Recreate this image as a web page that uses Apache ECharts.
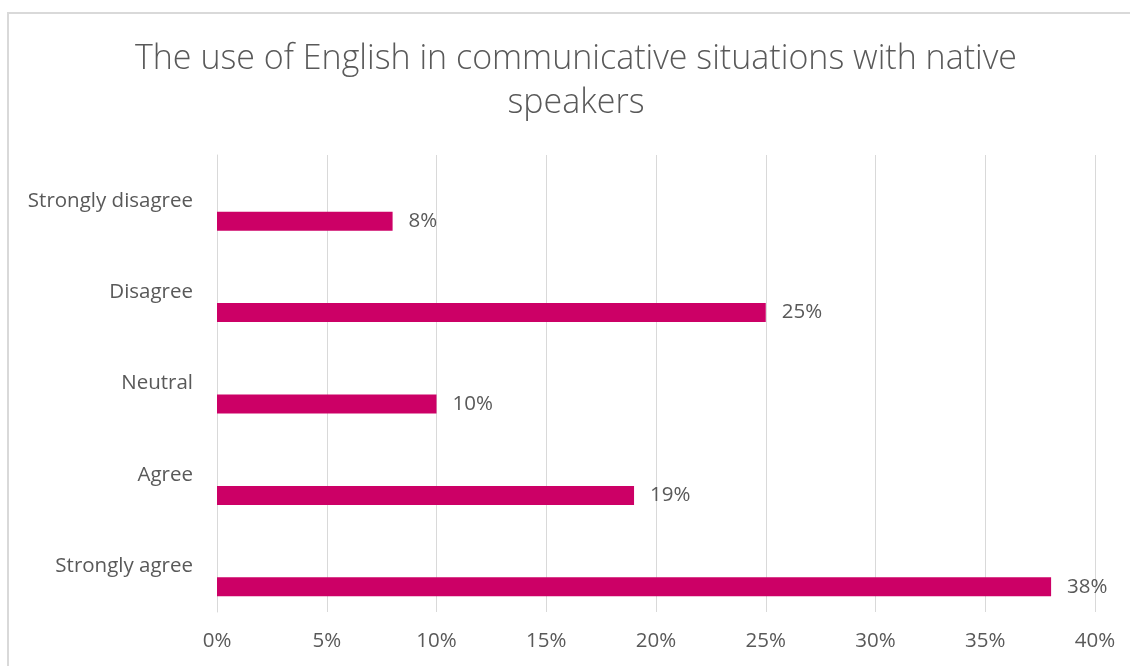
<!DOCTYPE html>
<html>
<head>
<meta charset="utf-8">
<script src="https://cdn.jsdelivr.net/npm/echarts@6/dist/echarts.min.js"></script>
<style>
html,body{margin:0;padding:0;background:#fff;}
#chart{width:1130px;height:666px;}
</style>
</head>
<body>
<div id="chart"></div>
<script>
const titleText = 'The use of English in communicative situations with native\nspeakers';
const categories = ['Strongly disagree', 'Disagree', 'Neutral', 'Agree', 'Strongly agree'];
const values = [8, 25, 10, 19, 38];
const placeholder = [null, null, null, null, null];
const xTicks = { min: 0, max: 40, interval: 5 };

const FONT = '"Open Sans"';
const chart = echarts.init(document.getElementById('chart'), null, { renderer: 'canvas' });
chart.setOption({
  animation: false,
  backgroundColor: '#ffffff',
  graphic: [{
    type: 'rect',
    shape: { x: 8, y: 13, width: 1200, height: 700 },
    style: { fill: 'none', stroke: '#d9d9d9', lineWidth: 2 },
    silent: true
  }],
  title: {
    text: titleText,
    left: 571,
    textAlign: 'center',
    top: 32,
    textStyle: { fontFamily: FONT, fontWeight: 300, fontSize: 34, color: '#595959', lineHeight: 44 }
  },
  grid: { left: 217, right: 35, top: 155, bottom: 54, containLabel: false },
  xAxis: {
    type: 'value',
    min: xTicks.min, max: xTicks.max, interval: xTicks.interval,
    axisLine: { show: false },
    axisTick: { show: false },
    splitLine: { show: true, lineStyle: { color: '#d9d9d9', width: 1 } },
    axisLabel: { formatter: '{value}%', color: '#595959', fontFamily: FONT, fontSize: 20.5, margin: 19 }
  },
  yAxis: {
    type: 'category',
    inverse: true,
    data: categories,
    axisLine: { show: true, lineStyle: { color: '#d9d9d9' } },
    axisTick: { show: false },
    splitLine: { show: false },
    axisLabel: { color: '#595959', fontFamily: FONT, fontSize: 20.5, margin: 24 }
  },
  series: [
    {
      type: 'bar', name: 'spacer', data: placeholder, barWidth: 19, barGap: '116%',
      itemStyle: { color: 'transparent' }, silent: true
    },
    {
      type: 'bar', name: 'Share', data: values, barWidth: 19, barGap: '116%',
      itemStyle: { color: '#cc0066' },
      label: {
        show: true, position: 'right', distance: 16,
        formatter: p => p.value + '%',
        color: '#595959', fontFamily: FONT, fontSize: 20.5
      }
    }
  ]
});
</script>
</body>
</html>
